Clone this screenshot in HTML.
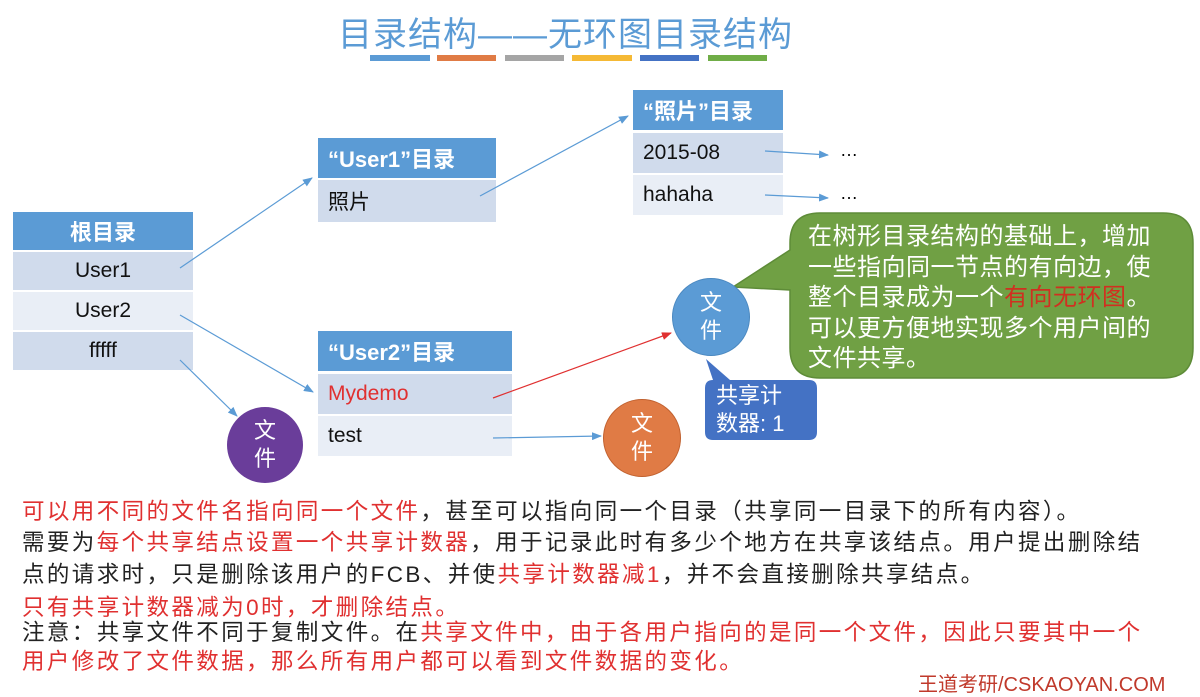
<!DOCTYPE html>
<html><head><meta charset="utf-8"><style>
body{margin:0;width:1200px;height:686px;background:#fff;position:relative;overflow:hidden;font-family:"Liberation Sans","Noto Sans CJK SC",sans-serif}
.a{position:absolute}
.h{background:#5b9bd5;color:#fff;font-size:22px;font-weight:bold;display:flex;align-items:center}
.r1{background:#d0dbec;color:#111;font-size:21px;display:flex;align-items:center}
.r2{background:#e9eef6;color:#111;font-size:21px;display:flex;align-items:center}
.c{justify-content:center}
.circ{border-radius:50%;color:#fff;font-size:22px;display:flex;align-items:center;justify-content:center;text-align:center;line-height:28px}
.t{font-size:22.5px;color:#222;white-space:nowrap;letter-spacing:2.4px}
.red{color:#e03030}
</style></head><body>
<div class="a" style="left:338px;top:7px;font-size:34px;color:#5b9bd5;letter-spacing:1px">目录结构——无环图目录结构</div>
<div class="a" style="left:370px;top:55px;width:60px;height:6px;background:#5b9bd5"></div>
<div class="a" style="left:437px;top:55px;width:59px;height:6px;background:#e07b45"></div>
<div class="a" style="left:505px;top:55px;width:59px;height:6px;background:#a5a5a5"></div>
<div class="a" style="left:572px;top:55px;width:60px;height:6px;background:#f5b935"></div>
<div class="a" style="left:640px;top:55px;width:59px;height:6px;background:#4472c4"></div>
<div class="a" style="left:708px;top:55px;width:59px;height:6px;background:#70ad47"></div>

<div class="a h c" style="left:13px;top:212px;width:180px;height:38px">根目录</div>
<div class="a r1 c" style="left:13px;top:252px;width:180px;height:38px">User1</div>
<div class="a r2 c" style="left:13px;top:292px;width:180px;height:38px">User2</div>
<div class="a r1 c" style="left:13px;top:332px;width:180px;height:38px">fffff</div>
<div class="a h" style="left:318px;top:138px;width:178px;height:40px;padding-left:10px;box-sizing:border-box">“User1”目录</div>
<div class="a r1" style="left:318px;top:180px;width:178px;height:42px;padding-left:10px;box-sizing:border-box">照片</div>
<div class="a h" style="left:633px;top:90px;width:150px;height:40px;padding-left:10px;box-sizing:border-box">“照片”目录</div>
<div class="a r1" style="left:633px;top:133px;width:150px;height:40px;padding-left:10px;box-sizing:border-box">2015-08</div>
<div class="a r2" style="left:633px;top:175px;width:150px;height:40px;padding-left:10px;box-sizing:border-box">hahaha</div>
<div class="a" style="left:840px;top:140px;font-size:18px">…</div>
<div class="a" style="left:840px;top:183px;font-size:18px">…</div>
<div class="a h" style="left:318px;top:331px;width:194px;height:40px;padding-left:10px;box-sizing:border-box">“User2”目录</div>
<div class="a r1" style="left:318px;top:374px;width:194px;height:40px;padding-left:10px;box-sizing:border-box;color:#e03030">Mydemo</div>
<div class="a r2" style="left:318px;top:416px;width:194px;height:40px;padding-left:10px;box-sizing:border-box">test</div>

<svg class="a" style="left:0;top:0" width="1200" height="686">
<defs>
<marker id="mb" markerWidth="10" markerHeight="8" refX="9" refY="4" orient="auto" markerUnits="userSpaceOnUse"><path d="M0,0L10,4L0,8z" fill="#5b9bd5"/></marker>
<marker id="mr" markerWidth="10" markerHeight="8" refX="9" refY="4" orient="auto" markerUnits="userSpaceOnUse"><path d="M0,0L10,4L0,8z" fill="#e03030"/></marker>
</defs>
<g stroke="#5b9bd5" stroke-width="1.2" fill="none">
<line x1="180" y1="268" x2="312" y2="178" marker-end="url(#mb)"/>
<line x1="480" y1="196" x2="628" y2="116" marker-end="url(#mb)"/>
<line x1="765" y1="151" x2="828" y2="155" marker-end="url(#mb)"/>
<line x1="765" y1="195" x2="828" y2="198" marker-end="url(#mb)"/>
<line x1="180" y1="315" x2="313" y2="392" marker-end="url(#mb)"/>
<line x1="180" y1="360" x2="237" y2="416" marker-end="url(#mb)"/>
<line x1="493" y1="438" x2="601" y2="436" marker-end="url(#mb)"/>
</g>
<line x1="493" y1="398" x2="671" y2="333" stroke="#e03030" stroke-width="1.2" marker-end="url(#mr)"/>
<path d="M820,213 H1163 Q1193,213 1193,243 V348 Q1193,378 1163,378 H820 Q790,378 790,348 V290 L733,287 L790,250 V243 Q790,213 820,213z" fill="#70a044" stroke="#5e8c38" stroke-width="1.5"/>
<path d="M713,380 H809 Q817,380 817,388 V432 Q817,440 809,440 H713 Q705,440 705,432 V388 Q705,380 713,380 H730 L706,359z" fill="#4472c4"/>
</svg>
<div class="a circ" style="left:227px;top:407px;width:76px;height:76px;background:#6a3d9a">文<br>件</div>
<div class="a circ" style="left:672px;top:278px;width:76px;height:76px;background:#5b9bd5;border:1px solid #4a88c0">文<br>件</div>
<div class="a circ" style="left:603px;top:399px;width:76px;height:76px;background:#e07b45;border:1px solid #c0602e">文<br>件</div>
<div class="a" style="left:808px;top:222px;width:350px;color:#fff;font-size:24px;line-height:30.5px;letter-spacing:0.5px">在树形目录结构的基础上，增加一些指向同一节点的有向边，使整个目录成为一个<span style="color:#d03020">有向无环图</span>。可以更方便地实现多个用户间的文件共享。</div>
<div class="a" style="left:716px;top:382px;color:#fff;font-size:22px;line-height:28px">共享计<br>数器: 1</div>

<div class="a t" style="left:22px;top:494px"><span class="red">可以用不同的文件名指向同一个文件</span>，甚至可以指向同一个目录（共享同一目录下的所有内容）。</div>
<div class="a t" style="left:22px;top:527px;line-height:32px">需要为<span class="red">每个共享结点设置一个共享计数器</span>，用于记录此时有多少个地方在共享该结点。用户提出删除结<br>点的请求时，只是删除该用户的FCB、并使<span class="red">共享计数器减1</span>，并不会直接删除共享结点。</div>
<div class="a t red" style="left:22px;top:590px">只有共享计数器减为0时，才删除结点。</div>
<div class="a t" style="left:22px;top:618px;line-height:29px">注意：共享文件不同于复制文件。在<span class="red">共享文件中，由于各用户指向的是同一个文件，因此只要其中一个<br>用户修改了文件数据，那么所有用户都可以看到文件数据的变化。</span></div>
<div class="a" style="left:918px;top:668px;font-size:20px;color:#c0392b">王道考研/CSKAOYAN.COM</div>
</body></html>
